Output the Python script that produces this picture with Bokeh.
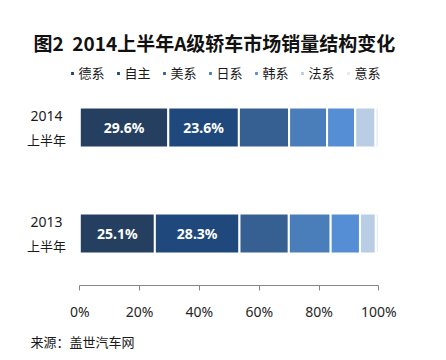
from bokeh.plotting import figure
from bokeh.models import Range1d, FixedTicker, ColumnDataSource, Label, Title
from bokeh.core.properties import value
from bokeh.embed import file_html
from bokeh.resources import INLINE

# ---------------- data ----------------
title_text = "图2  2014上半年A级轿车市场销量结构变化"
source_text = "来源：盖世汽车网"
periods = ["2013", "2014"]          # bottom row first
period_suffix = "上半年"
brands = ["德系", "自主", "美系", "日系", "韩系", "法系", "意系"]
share_2013 = [25.1, 28.3, 16.5, 14.0, 9.8, 5.3, 1.0]
share_2014 = [29.6, 23.6, 16.8, 12.7, 9.4, 6.8, 1.1]
labelled_brands = ["德系", "自主"]
tick_values = [0, 20, 40, 60, 80, 100]
tick_labels = ["0%", "20%", "40%", "60%", "80%", "100%"]

# ---------------- styles ----------------
colors = ["#243F60", "#1F497D", "#376092", "#4A7EBB", "#558ED5", "#B9CDE5", "#E3EAF4"]
CJK = "Noto Sans CJK SC"
LAT = "Noto Sans"

W, H = 446, 360
X0 = 79.3      # px of 0 %
XPX = 2.99     # px per percent
YC_TOP = 127   # px of upper bar centre
YPX = 106      # px between bar centres
AXIS_Y = 285   # px of axis line


def fx(px):
    return (px - X0) / XPX


def fy(px):
    return 1 + (YC_TOP - px) / YPX


p = figure(width=W, height=H, output_backend="svg", toolbar_location=None,
           x_range=Range1d(fx(0), fx(W)), y_range=Range1d(fy(AXIS_Y), fy(0)),
           min_border_left=0, min_border_right=0, min_border_top=0,
           min_border_bottom=H - AXIS_Y, y_axis_location=None,
           outline_line_color=None, background_fill_color="white")
p.grid.visible = False

data = {"period": periods, "y": list(range(len(periods)))}
for i, b in enumerate(brands):
    data[b] = [share_2013[i], share_2014[i]]
src = ColumnDataSource(data)

p.hbar_stack(brands, y="y", height=40 / YPX, color=colors, source=src,
             line_color="white", line_width=2, legend_label=brands)

# value labels inside first segments
lx, ly, lt = [], [], []
for yi, shares in enumerate([share_2013, share_2014]):
    start = 0.0
    for b, s in zip(brands, shares):
        if b in labelled_brands:
            lx.append(start + s / 2)
            ly.append(yi)
            lt.append(f"{s:.1f}%")
        start += s
p.text(x=lx, y=ly, text=lt, text_color="white", text_font=value(LAT),
       text_font_style="bold", text_font_size="14px",
       text_align="center", text_baseline="middle")

# period labels
px_ = [fx(46)] * len(periods)
p.text(x=px_, y=[i + 12 / YPX for i in range(len(periods))], text=periods,
       text_font=value(LAT), text_font_size="14px", text_color="#1a1a1a",
       text_align="center", text_baseline="middle")
p.text(x=px_, y=[i - 12 / YPX for i in range(len(periods))],
       text=[period_suffix] * len(periods),
       text_font=value(CJK), text_font_size="13px", text_color="#1a1a1a",
       text_align="center", text_baseline="middle")

# legend
lg = p.legend[0]
lg.orientation = "horizontal"
lg.padding = 0
lg.margin = 0
lg.spacing = 10
lg.glyph_width = 6
lg.glyph_height = 6
lg.label_standoff = 4
lg.label_height = 16
lg.label_text_font = CJK
lg.label_text_font_size = "13px"
lg.label_text_color = "#1a1a1a"
lg.border_line_color = None
lg.background_fill_alpha = 0
lg.location = (68.5, AXIS_Y - 82)

# axis
ax = p.xaxis[0]
ax.ticker = FixedTicker(ticks=tick_values)
ax.major_label_overrides = {v: l for v, l in zip(tick_values, tick_labels)}
ax.bounds = (tick_values[0], tick_values[-1])
ax.axis_line_color = "#868686"
ax.major_tick_line_color = "#868686"
ax.minor_tick_line_color = None
ax.major_tick_in = 0
ax.major_tick_out = 5
ax.major_label_text_font = LAT
ax.major_label_text_font_size = "14px"
ax.major_label_text_color = "#262626"
ax.major_label_standoff = 11

# title
p.add_layout(Label(x=fx(33), y=fy(41.7), text=title_text.replace(" ", "\u00a0"),
                   text_font=CJK, text_font_style="bold", text_font_size="19px",
                   text_color="#111111", text_align="left",
                   text_baseline="middle"))
# source note below the axis
p.add_layout(Title(text=source_text, align="left", offset=30, standoff=12,
                   text_font=CJK, text_font_size="13px", text_font_style="normal",
                   text_color="#1a1a1a"), "below")

open("out.html", "w").write(file_html(p, INLINE))
